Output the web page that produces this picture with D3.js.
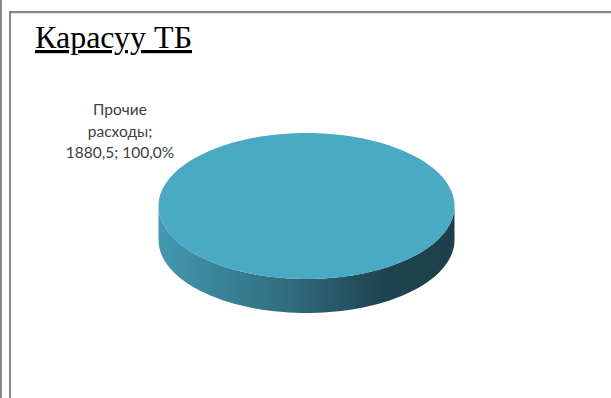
<!DOCTYPE html>
<html>
<head>
<meta charset="utf-8">
<script src="https://cdn.jsdelivr.net/npm/d3@7"></script>
<style>
  html, body { margin: 0; padding: 0; background: #fff; }
  svg { display: block; }
</style>
</head>
<body>
<svg id="chart" width="611" height="398"></svg>
<script>
// Data
const title = "Карасуу ТБ";
const categories = ["Прочие расходы"];
const values = [1880.5];
const sliceColors = ["#4AA9C3"];

const W = 611, H = 398;
const svg = d3.select("#chart");

// Frame lines
const frame = svg.append("g").attr("stroke", "#888").attr("stroke-width", 2).attr("fill", "none");
frame.append("line").attr("x1", 1).attr("y1", 0).attr("x2", 1).attr("y2", H);
frame.append("line").attr("x1", 10).attr("y1", 12).attr("x2", 10).attr("y2", H);
frame.append("line").attr("x1", 9).attr("y1", 12).attr("x2", W).attr("y2", 12);
svg.append("line").attr("x1", 11).attr("y1", 13.5).attr("x2", W).attr("y2", 13.5)
  .attr("stroke", "#e4e4e4").attr("stroke-width", 1);

// Title
svg.append("text")
  .attr("x", 35).attr("y", 48)
  .attr("font-family", "'Liberation Serif', 'Times New Roman', serif")
  .attr("font-size", 32)
  .attr("fill", "#000")
  .attr("text-decoration", "underline")
  .text(title);

// 3D pie geometry
const cx = 306.5, cy = 206, rx = 148, ry = 73, depth = 34;
const total = d3.sum(values);
const pie = d3.pie().sort(null).startAngle(0).endAngle(2 * Math.PI);
const arcs = pie(values);

// angle measured clockwise from top, as d3.pie does
const px = a => cx + rx * Math.sin(a);
const py = (a, dy = 0) => cy - ry * Math.cos(a) + dy;

const defs = svg.append("defs");
const grad = defs.append("linearGradient")
  .attr("id", "sideGrad").attr("gradientUnits", "userSpaceOnUse")
  .attr("x1", cx - rx).attr("x2", cx + rx).attr("y1", 0).attr("y2", 0);
grad.append("stop").attr("offset", 0).attr("stop-color", "#4398b0");
grad.append("stop").attr("offset", 0.45).attr("stop-color", "#2f6b7c");
grad.append("stop").attr("offset", 0.75).attr("stop-color", "#1f4552");
grad.append("stop").attr("offset", 1).attr("stop-color", "#1e3f49");

// Side wall: visible part lies where the angle faces the viewer (pi/2..3pi/2)
function sidePath(a0, a1) {
  const s = Math.max(a0, Math.PI / 2), e = Math.min(a1, 3 * Math.PI / 2);
  if (e <= s) return null;
  const n = 80;
  const pts = d3.range(n + 1).map(i => s + (e - s) * i / n);
  let d = "M" + pts.map(a => [px(a), py(a)].join(",")).join("L");
  d += "L" + pts.slice().reverse().map(a => [px(a), py(a, depth)].join(",")).join("L");
  return d + "Z";
}

function topPath(a0, a1) {
  const n = 160;
  const pts = d3.range(n + 1).map(i => a0 + (a1 - a0) * i / n);
  let d = "M" + pts.map(a => [px(a), py(a)].join(",")).join("L");
  if (a1 - a0 < 2 * Math.PI - 1e-6) d += "L" + cx + "," + cy;
  return d + "Z";
}

const g = svg.append("g");
arcs.forEach(a => {
  const sp = sidePath(a.startAngle, a.endAngle);
  if (sp) g.append("path").attr("d", sp).attr("fill", "url(#sideGrad)");
});
arcs.forEach((a, i) => {
  g.append("path").attr("d", topPath(a.startAngle, a.endAngle)).attr("fill", sliceColors[i]);
});

// Data label
const fmt = v => d3.format(".1f")(v).replace(".", ",");
const labelLines = arcs.map(a => {
  const parts = categories[a.index].split(" ");
  return [parts[0], parts.slice(1).join(" ") + ";",
    fmt(a.value) + "; " + fmt(a.value / total * 100) + "%"];
})[0];
const lbl = svg.append("text")
  .attr("font-family", "Lato, 'Noto Sans', sans-serif")
  .attr("font-size", 15.5)
  .attr("fill", "#404040")
  .attr("text-anchor", "middle");
labelLines.forEach((t, i) => {
  lbl.append("tspan").attr("x", 120).attr("y", 115 + i * 21.5).text(t);
});
</script>
</body>
</html>
